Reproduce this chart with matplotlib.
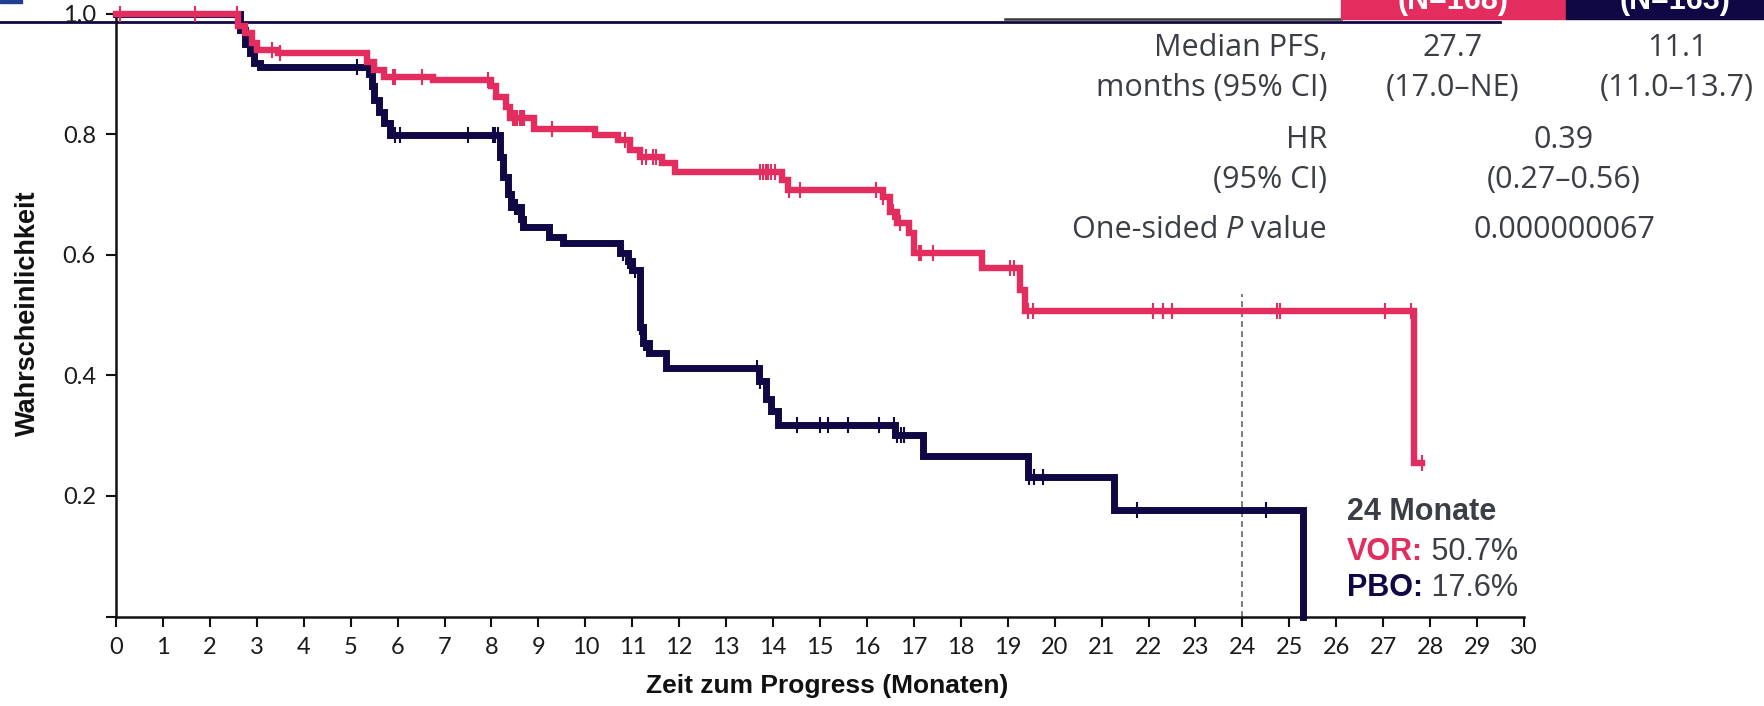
import numpy as np
import matplotlib
matplotlib.use("Agg")
import matplotlib.pyplot as plt
from matplotlib.lines import Line2D
from matplotlib.patches import Rectangle

# ---------------- data ----------------
vor_t = [0, 2.60, 2.75, 2.90, 3.00, 3.45, 5.35, 5.50, 5.70, 6.75, 8.00, 8.10, 8.30, 8.40, 8.90,
         10.20, 10.70, 10.95, 11.16, 11.63, 11.90, 14.20, 14.32, 16.35, 16.50, 16.64, 16.90,
         17.00, 18.45, 19.26, 19.37, 27.65, 27.82]
vor_s = [1.0, 0.980, 0.968, 0.951, 0.939, 0.934, 0.920, 0.906, 0.895, 0.890, 0.880, 0.861, 0.845,
         0.827, 0.808, 0.798, 0.790, 0.774, 0.7625, 0.7516, 0.7377, 0.724, 0.7075, 0.696, 0.671,
         0.652, 0.636, 0.603, 0.578, 0.541, 0.507, 0.254, 0.254]
vor_cens = [0.08, 1.68, 2.57, 3.32, 3.50, 5.90, 5.95, 6.51, 7.93, 8.45, 8.50, 8.55, 8.60, 8.65,
            8.70, 9.28, 10.85, 11.20, 11.30, 11.45, 11.50, 13.72, 13.78, 13.84, 13.90, 13.96,
            14.05, 14.33, 14.58, 16.20, 16.35, 16.55, 16.70, 17.10, 17.16, 17.41, 19.05, 19.13,
            19.43, 19.54, 22.10, 22.30, 22.50, 24.73, 24.80, 27.04, 27.60, 27.82]

pbo_t = [0, 2.65, 2.75, 2.85, 2.95, 3.07, 5.38, 5.45, 5.50, 5.60, 5.70, 5.84, 8.18, 8.25, 8.35,
         8.42, 8.62, 8.68, 9.23, 9.52, 10.74, 10.90, 11.00, 11.16, 11.22, 11.36, 11.72, 13.70,
         13.85, 13.95, 14.10, 16.60, 17.19, 19.43, 21.27, 25.30]
pbo_s = [1.0, 0.973, 0.950, 0.934, 0.918, 0.912, 0.900, 0.880, 0.857, 0.836, 0.818, 0.798, 0.762,
         0.729, 0.700, 0.679, 0.660, 0.646, 0.630, 0.619, 0.603, 0.590, 0.575, 0.480, 0.453,
         0.437, 0.412, 0.390, 0.360, 0.340, 0.318, 0.301, 0.266, 0.232, 0.176, 0.0]
pbo_cens = [5.13, 5.95, 6.05, 7.50, 8.03, 8.08, 8.14, 8.30, 8.50, 8.55, 10.80, 10.90, 11.05,
            11.17, 11.25, 11.30, 13.65, 13.72, 14.50, 15.00, 15.18, 15.60, 16.25, 16.58, 16.65,
            16.72, 16.80, 19.45, 19.55, 19.75, 21.76, 24.50]

x_ticks = list(range(0, 31))
y_ticks = [0.0, 0.2, 0.4, 0.6, 0.8, 1.0]
y_tick_labels = ["", "0.2", "0.4", "0.6", "0.8", "1.0"]
landmark_month = 24
landmark_top = 0.535

table_rows = [("Median PFS,", "27.7", "11.1"),
              ("months (95% CI)", "(17.0\u2013NE)", "(11.0\u201313.7)")]
hr_rows = [("HR", "0.39"), ("(95% CI)", "(0.27\u20130.56)")]
p_label = ("One-sided ", "P", " value")
p_value = "0.000000067"
header_vor = "(N=168)"
header_pbo = "(N=163)"
landmark_title = "24 Monate"
vor_name, vor_pct = "VOR:", "50.7%"
pbo_name, pbo_pct = "PBO:", "17.6%"
xlabel = "Zeit zum Progress (Monaten)"
ylabel = "Wahrscheinlichkeit"

PINK = "#E22D5E"
NAVY = "#100845"
GRAY = "#3b3e44"
W, H = 1764, 706

plt.rcParams['font.family'] = ['Lato', 'DejaVu Sans']
TFAM = ['Open Sans', 'DejaVu Sans']
BFAM = ["Liberation Sans", "DejaVu Sans"]

fig = plt.figure(figsize=(W / 100, H / 100), dpi=100)
fig.patch.set_facecolor("white")


def fx(px):
    return px / W


def fy(py):
    return 1 - py / H


# decorative header elements (slide crop)
fig.add_artist(Line2D([0, fx(1500)], [fy(21.5), fy(21.5)], color=NAVY, lw=2.0, zorder=-5))
fig.add_artist(Line2D([fx(1005), fx(1341)], [fy(19), fy(19)], color="#3a3a3a", lw=1.8, zorder=-4))
fig.add_artist(Rectangle((fx(1341), fy(18.5)), fx(1566) - fx(1341), 18.5 / H,
                         transform=fig.transFigure, color=PINK, zorder=-3))
fig.add_artist(Rectangle((fx(1566), fy(18.5)), 1 - fx(1566), 18.5 / H,
                         transform=fig.transFigure, color=NAVY, zorder=-3))
fig.add_artist(Rectangle((0, fy(2.5)), fx(22), 2.5 / H, transform=fig.transFigure,
                         color="#1f3f8f", zorder=-3))
fig.text(fx(1453), fy(9.5), header_vor, color="white", fontsize=22, fontweight="bold",
         ha="center", va="baseline", family=BFAM)
fig.text(fx(1675), fy(9.5), header_pbo, color="white", fontsize=22, fontweight="bold",
         ha="center", va="baseline", family=BFAM)

ax = fig.add_axes([fx(116), (H - 616.5) / H, (1524 - 116) / W, 603 / H])
ax.patch.set_visible(False)
ax.set_xlim(0, 30)
ax.set_ylim(0, 1)
for s in ["top", "right"]:
    ax.spines[s].set_visible(False)
for s in ["left", "bottom"]:
    ax.spines[s].set_linewidth(1.8)
    ax.spines[s].set_color("#111111")
ax.set_xticks(x_ticks)
ax.set_xticklabels([str(v) for v in x_ticks])
ax.set_yticks(y_ticks)
ax.set_yticklabels(y_tick_labels)
ax.tick_params(axis="both", direction="out", length=7.5, width=1.5, color="#111111",
               labelsize=17, labelcolor="#1a1a1a", pad=7)


def step_value(times, survs, t):
    i = np.searchsorted(np.asarray(times), t, side="right") - 1
    return np.asarray(survs)[i]


# landmark dashed line
ax.plot([landmark_month, landmark_month], [0, landmark_top], color="#666666", lw=1.2,
        ls=(0, (3.5, 2.5)), zorder=1)

# curves
ax.step(pbo_t, pbo_s, where="post", color=NAVY, lw=5.0, zorder=3, clip_on=False,
        solid_joinstyle="miter")
ax.plot(pbo_cens, [step_value(pbo_t, pbo_s, t) for t in pbo_cens], "|", color=NAVY,
        ms=12, mew=1.5, zorder=3, clip_on=False)
ax.step(vor_t, vor_s, where="post", color=PINK, lw=4.6, zorder=4, clip_on=False,
        solid_joinstyle="miter")
ax.plot(vor_cens, [step_value(vor_t, vor_s, t) for t in vor_cens], "|", color=PINK,
        ms=12, mew=1.5, zorder=4, clip_on=False)

# axis labels
fig.text(fx(827), fy(686), xlabel, ha="center", va="center", fontsize=19, fontweight="bold",
         color="#111111", family=BFAM)
fig.text(fx(28), fy(313), ylabel, ha="center", va="center", rotation=90, fontsize=19.5,
         fontweight="bold", color="#111111", family=BFAM)

# statistics table
tfs = 22
rows_y = [48, 88]
for (lab, v1, v2), yy in zip(table_rows, rows_y):
    fig.text(fx(1327), fy(yy), lab, ha="right", va="center", fontsize=tfs, color=GRAY, family=TFAM)
    fig.text(fx(1453), fy(yy), v1, ha="center", va="center", fontsize=tfs, color=GRAY, family=TFAM)
    fig.text(fx(1677), fy(yy), v2, ha="center", va="center", fontsize=tfs, color=GRAY, family=TFAM)
for (lab, v), yy in zip(hr_rows, [140, 180]):
    fig.text(fx(1327), fy(yy), lab, ha="right", va="center", fontsize=tfs, color=GRAY, family=TFAM)
    fig.text(fx(1564), fy(yy), v, ha="center", va="center", fontsize=tfs, color=GRAY, family=TFAM)
t3 = fig.text(fx(1327), fy(230), p_label[2], ha="right", va="center", fontsize=tfs,
              color=GRAY, family=TFAM)
t2 = fig.text(0, 0, p_label[1], fontsize=tfs, color=GRAY, style="italic", family=TFAM)
t1 = fig.text(0, 0, p_label[0], fontsize=tfs, color=GRAY, family=TFAM)
fig.canvas.draw()
r = fig.canvas.get_renderer()
bb3 = t3.get_window_extent(r)
t2.set_ha("right"); t2.set_va("bottom")
t2.set_position((bb3.x0 / W, bb3.y0 / H))
fig.canvas.draw()
bb2 = t2.get_window_extent(r)
t1.set_ha("right"); t1.set_va("bottom")
t1.set_position((bb2.x0 / W, bb3.y0 / H))
fig.text(fx(1564), fy(230), p_value, ha="center", va="center", fontsize=tfs, color=GRAY,
         family=TFAM)

# landmark block
afs = 22
fig.text(fx(1347), fy(511.7), landmark_title, ha="left", va="center", fontsize=afs,
         fontweight="bold", color=GRAY, family=BFAM)
a1 = fig.text(fx(1347), fy(551.7), vor_name, ha="left", va="center", fontsize=afs,
              fontweight="bold", color=PINK, family=BFAM)
ax.annotate(" " + vor_pct, xy=(1, 0), xycoords=a1, ha="left", va="bottom", fontsize=afs,
            color=GRAY, family=BFAM, annotation_clip=False)
a2 = fig.text(fx(1347), fy(588.3), pbo_name, ha="left", va="center", fontsize=afs,
              fontweight="bold", color=NAVY, family=BFAM)
ax.annotate(" " + pbo_pct, xy=(1, 0), xycoords=a2, ha="left", va="bottom", fontsize=afs,
            color=GRAY, family=BFAM, annotation_clip=False)

fig.savefig("out.png", dpi=100, facecolor="white")
